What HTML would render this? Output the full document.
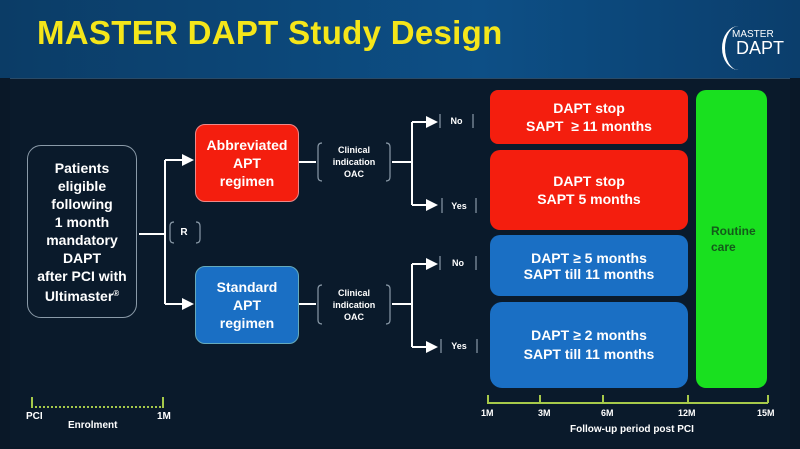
<!DOCTYPE html><html><head><style>
body{margin:0;width:800px;height:449px;overflow:hidden;background:#0a1828;font-family:"Liberation Sans",sans-serif;font-weight:bold;color:#fff}
.a{position:absolute}
.c{display:flex;align-items:center;justify-content:center;text-align:center}
</style></head><body>
<div class="a" style="left:0;top:0;width:800px;height:78px;background:linear-gradient(90deg,#0b3c66,#0d4f86 60%,#0b3e6c)"></div>
<div class="a" style="left:10px;top:78px;width:780px;height:368px;background:#0a1a2b;border-top:1px solid #2a4a66"></div>
<div class="a" style="left:37px;top:14px;font-size:33px;color:#f5e61a;letter-spacing:0.3px">MASTER DAPT Study Design</div>
<div class="a" style="left:732px;top:29px;font-size:10px;font-weight:normal;color:#fff">MASTER</div>
<div class="a" style="left:736px;top:38px;font-size:18px;font-weight:normal;color:#fff">DAPT</div>
<div class="a" style="left:722px;top:26px;width:30px;height:44px;border-left:3px solid #fff;border-radius:50%"></div>

<div class="a c" style="left:27px;top:145px;width:108px;height:171px;border:1.5px solid #8a9aa8;border-radius:14px;font-size:14px;line-height:18px"><div>Patients<br>eligible<br>following<br>1 month<br>mandatory<br>DAPT<br>after PCI with<br>Ultimaster<span style="font-size:8px;vertical-align:5px">®</span></div></div>

<svg class="a" style="left:0;top:0" width="800" height="449">
<defs><marker id="m" markerWidth="6" markerHeight="6" refX="5" refY="3" orient="auto"><path d="M0,0L6,3L0,6z" fill="#fff"/></marker></defs>
<g stroke="#fff" stroke-width="2" fill="none">
<path d="M139 234H165M165 160V304"/>
<path d="M165 160H192" marker-end="url(#m)"/><path d="M165 304H192" marker-end="url(#m)"/>
<path d="M298 162H316M392 162H412M412 122V205"/>
<path d="M412 122H436" marker-end="url(#m)"/><path d="M412 205H436" marker-end="url(#m)"/>
<path d="M298 304H316M392 304H412M412 264V347"/>
<path d="M412 264H436" marker-end="url(#m)"/><path d="M412 347H436" marker-end="url(#m)"/>
</g>
<g stroke="#8a9aa8" stroke-width="1.2" fill="none">
<path d="M174 222q-4 0-4 4v13q0 4 4 4M196 222q4 0 4 4v13q0 4-4 4"/>
<path d="M322 143q-4 0-4 4v30q0 4 4 4M386 143q4 0 4 4v30q0 4-4 4"/>
<path d="M322 285q-4 0-4 4v31q0 4 4 4M386 285q4 0 4 4v31q0 4-4 4"/>
<path d="M440 114v14M473 114v14"/><path d="M442 198v15M476 198v15"/>
<path d="M440 256v14M476 256v14"/><path d="M441 339v14M477 339v14"/>
</g>
<g stroke="#a6c94a" stroke-width="2" fill="none">
<path d="M487 403H768M488 395v8M540 395v8M603 395v8M688 395v8M768 395v8"/>
<path d="M32 397v11M163 397v11"/>
<path d="M35 407H161" stroke-dasharray="2 2"/>
</g>
</svg>
<div class="a c" style="left:168px;top:222px;width:32px;height:21px;font-size:10px">R</div>
<div class="a c" style="left:195px;top:124px;width:102px;height:76px;background:#f41e0e;border-radius:10px;font-size:14px;line-height:18px;border:1px solid #e88">Abbreviated<br>APT<br>regimen</div>
<div class="a c" style="left:195px;top:266px;width:102px;height:76px;background:#1a6fc4;border-radius:10px;font-size:14px;line-height:18px;border:1px solid #6ab">Standard<br>APT<br>regimen</div>
<div class="a c" style="left:316px;top:143px;width:76px;height:38px;font-size:9px;line-height:12px">Clinical<br>indication<br>OAC</div>
<div class="a c" style="left:316px;top:285px;width:76px;height:39px;font-size:9px;line-height:12px">Clinical<br>indication<br>OAC</div>
<div class="a c" style="left:440px;top:113px;width:33px;height:15px;font-size:9px">No</div>
<div class="a c" style="left:442px;top:198px;width:34px;height:15px;font-size:9px">Yes</div>
<div class="a c" style="left:440px;top:256px;width:36px;height:14px;font-size:9px">No</div>
<div class="a c" style="left:441px;top:339px;width:36px;height:14px;font-size:9px">Yes</div>

<div class="a c" style="left:490px;top:90px;width:198px;height:54px;background:#f41e0e;border-radius:8px;font-size:14px;line-height:18px">DAPT stop<br>SAPT &nbsp;≥ 11 months</div>
<div class="a c" style="left:490px;top:150px;width:198px;height:80px;background:#f41e0e;border-radius:10px;font-size:14px;line-height:18px">DAPT stop<br>SAPT 5 months</div>
<div class="a c" style="left:490px;top:235px;width:198px;height:61px;background:#1a6fc4;border-radius:10px;font-size:14px;line-height:16px">DAPT ≥ 5 months<br>SAPT till 11 months</div>
<div class="a c" style="left:490px;top:302px;width:198px;height:86px;background:#1a6fc4;border-radius:12px;font-size:14px;line-height:19px">DAPT ≥ 2 months<br>SAPT till 11 months</div>
<div class="a" style="left:696px;top:90px;width:71px;height:298px;background:#19e01f;border-radius:10px"></div>
<div class="a" style="left:711px;top:223px;font-size:12px;line-height:16px;color:#145a1a">Routine<br>care</div>

<div class="a" style="left:481px;top:408px;font-size:9px">1M</div>
<div class="a" style="left:538px;top:408px;font-size:9px">3M</div>
<div class="a" style="left:601px;top:408px;font-size:9px">6M</div>
<div class="a" style="left:678px;top:408px;font-size:9px">12M</div>
<div class="a" style="left:757px;top:408px;font-size:9px">15M</div>
<div class="a" style="left:570px;top:424px;font-size:10px">Follow-up period post PCI</div>
<div class="a" style="left:26px;top:411px;font-size:10px">PCI</div>
<div class="a" style="left:157px;top:411px;font-size:10px">1M</div>
<div class="a" style="left:68px;top:420px;font-size:10px">Enrolment</div>
</body></html>
